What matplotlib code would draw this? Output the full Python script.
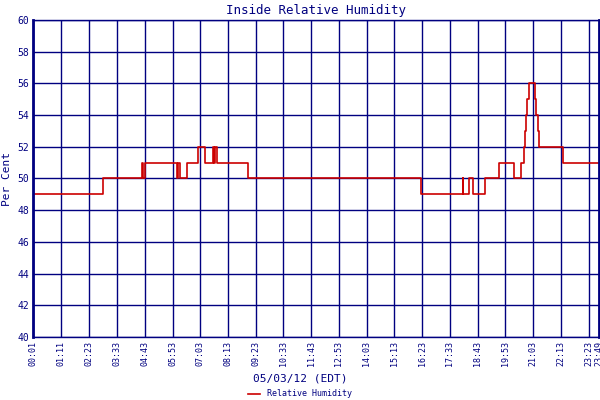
import matplotlib
matplotlib.use("Agg")
import matplotlib.pyplot as plt

# step changes: minute of day -> humidity (%)
step_min = [1, 177, 275, 279, 284, 365, 368, 372, 389, 418, 435, 454, 458, 461, 464, 543,
            980, 1085, 1087, 1101, 1111, 1141, 1177, 1214, 1232, 1241, 1243, 1246, 1248,
            1252, 1268, 1270, 1274, 1278, 1337, 1429]
step_val = [49, 50, 51, 50, 51, 50, 51, 50, 51, 52, 51, 52, 51, 52, 51, 50,
            49, 50, 49, 50, 49, 50, 51, 50, 51, 52, 53, 54, 55,
            56, 55, 54, 53, 52, 51, 51]
tick_labels = ["00:01", "01:11", "02:23", "03:33", "04:43", "05:53", "07:03", "08:13",
               "09:23", "10:33", "11:43", "12:53", "14:03", "15:13", "16:23", "17:33",
               "18:43", "19:53", "21:03", "22:13", "23:23", "23:49"]

def to_min(s):
    h, m = s.split(":")
    return int(h) * 60 + int(m)

navy = "#000080"
font = "DejaVu Sans Mono"

fig = plt.figure(figsize=(6, 4), dpi=100)
ax = fig.add_axes([33 / 600, 63 / 400, 566 / 600, 317 / 400])
ax.step(step_min, step_val, where="post", color="#cc0000", linewidth=1.2, label="Relative Humidity")
ax.set_xlim(1, 1429)
ax.set_ylim(40, 60)
ticks = [to_min(t) for t in tick_labels]
ax.set_xticks(ticks)
ax.set_xticklabels(tick_labels, rotation=90, fontsize=6, color=navy, family=font)
ax.set_yticks(range(40, 61, 2))
ax.set_yticklabels([str(v) for v in range(40, 61, 2)], fontsize=7, color=navy, family=font)
ax.grid(True, color=navy, linewidth=1)
ax.set_axisbelow(True)
ax.tick_params(length=0, pad=3)
for sp in ax.spines.values():
    sp.set_color(navy)
    sp.set_linewidth(1)
ax.spines["left"].set_linewidth(2)
ax.spines["right"].set_linewidth(2)
ax.set_title("Inside Relative Humidity", color=navy, family=font, fontsize=9, pad=4)
ax.set_ylabel("Per Cent", color=navy, family=font, fontsize=8, labelpad=4)
fig.text(0.5, 0.047, "05/03/12 (EDT)", ha="center", color=navy, family=font, fontsize=8)
leg = fig.legend(loc="lower center", bbox_to_anchor=(0.5, -0.015), frameon=False,
                 prop={"family": font, "size": 6}, handlelength=1.5)
for t in leg.get_texts():
    t.set_color(navy)
fig.savefig("out.png", dpi=100)
